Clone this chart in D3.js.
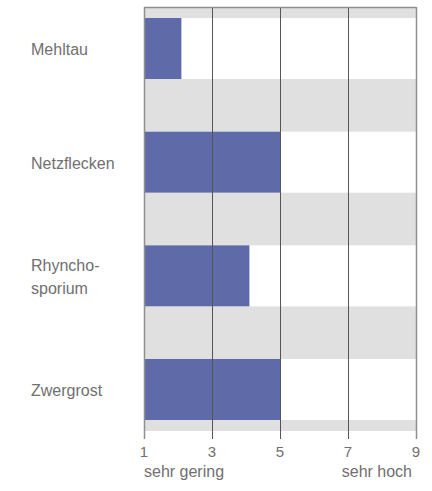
<!DOCTYPE html>
<html>
<head>
<meta charset="utf-8">
<script src="https://cdn.jsdelivr.net/npm/d3@7"></script>
<style>
  html, body { margin: 0; padding: 0; background: #fff; }
  svg { display: block; }
  text { font-family: "Liberation Sans", Arial, Helvetica, sans-serif; fill: #707070; }
</style>
</head>
<body>
<svg id="chart" width="432" height="491"></svg>
<script>
const categories = ["Mehltau", "Netzflecken", "Rhynchosporium", "Zwergrost"];
const labelLines = [["Mehltau"], ["Netzflecken"], ["Rhyncho-", "sporium"], ["Zwergrost"]];
const values = [2.1, 5, 4.1, 5];
const tickValues = [1, 3, 5, 7, 9];
const scaleLabels = ["sehr gering", "sehr hoch"];

const svg = d3.select("#chart");
const plotTop = 7, plotBottom = 431, tickEnd = 439;
const x = d3.scaleLinear().domain([1, 9]).range([144, 416]);
const y = d3.scaleBand().domain(categories).range([plotTop, plotBottom])
  .paddingInner(0.4633).paddingOuter(0.0968);

// grey background
svg.append("rect")
  .attr("x", x(1)).attr("y", plotTop)
  .attr("width", x(9) - x(1)).attr("height", plotBottom - plotTop)
  .attr("fill", "#e0e0e0");

// white rows
svg.selectAll("rect.row").data(categories).enter().append("rect")
  .attr("class", "row")
  .attr("x", x(1)).attr("y", d => y(d))
  .attr("width", x(9) - x(1)).attr("height", y.bandwidth())
  .attr("fill", "#ffffff");

// bars
svg.selectAll("rect.bar").data(categories).enter().append("rect")
  .attr("class", "bar")
  .attr("x", x(1)).attr("y", d => y(d))
  .attr("width", (d, i) => x(values[i]) - x(1)).attr("height", y.bandwidth())
  .attr("fill", "#5f6aa8");

// grid lines
svg.selectAll("line.grid").data(tickValues).enter().append("line")
  .attr("class", "grid")
  .attr("x1", d => Math.round(x(d)) + 0.5).attr("x2", d => Math.round(x(d)) + 0.5)
  .attr("y1", plotTop).attr("y2", tickEnd)
  .attr("stroke", d => (d === 1 || d === 9) ? "#8f8f8f" : "#555")
  .attr("stroke-width", d => (d === 1 || d === 9) ? 1.5 : 1);

// top border
svg.append("line")
  .attr("x1", x(1)).attr("x2", x(9))
  .attr("y1", plotTop + 0.5).attr("y2", plotTop + 0.5)
  .attr("stroke", "#8f8f8f").attr("stroke-width", 1.5);

// tick labels
svg.selectAll("text.tick").data(tickValues).enter().append("text")
  .attr("class", "tick")
  .attr("x", d => x(d)).attr("y", 457)
  .attr("text-anchor", "middle")
  .attr("font-size", 15)
  .text(d => d);

// scale labels
svg.append("text").attr("x", x(1)).attr("y", 477).attr("font-size", 16)
  .attr("text-anchor", "start").text(scaleLabels[0]);
svg.append("text").attr("x", x(9) - 4).attr("y", 477).attr("font-size", 16)
  .attr("text-anchor", "end").text(scaleLabels[1]);

// category labels
categories.forEach((c, i) => {
  const lines = labelLines[i];
  const mid = y(c) + y.bandwidth() / 2;
  const lh = 23;
  const first = mid + 6.5 - (lines.length - 1) * lh / 2;
  const t = svg.append("text").attr("x", 31).attr("font-size", 16);
  lines.forEach((ln, j) => {
    t.append("tspan").attr("x", 31).attr("y", first + j * lh).text(ln);
  });
});
</script>
</body>
</html>
